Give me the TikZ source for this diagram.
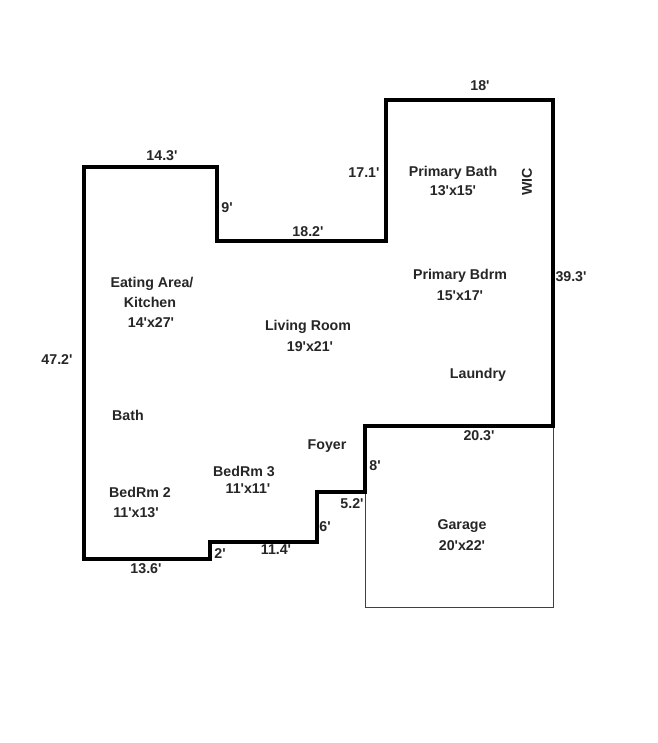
\documentclass[tikz,border=0pt]{standalone}
\usepackage{fontspec}
\setmainfont{Liberation Sans}[Ligatures=TeXOff]
\tikzset{
  wall/.style={line width=3.3pt,black,line join=miter},
  garage/.style={line width=1pt,black!75},
  lbl/.style={font=\fontsize{14.2}{16}\selectfont\bfseries,text=black!85,inner sep=0pt,align=center}
}
\begin{document}
\begin{tikzpicture}[x=1pt,y=-1pt]
\useasboundingbox[fill=white] (0,0) rectangle (657,743);
\draw[garage] (365,426) -- (365,607) -- (553,607) -- (553,426);
\draw[wall] (84,167) -- (217,167) -- (217,241) -- (386,241) -- (386,100) -- (553,100) -- (553,426) -- (365,426) -- (365,492) -- (317,492) -- (317,542) -- (210,542) -- (210,559) -- (84,559) -- cycle;
% dimensions
\node[lbl] (d1) at (480,86) {18'};
\node[lbl] (d2) at (364,173) {17.1'};
\node[lbl] (d3) at (162,156) {14.3'};
\node[lbl] (d4) at (227,208) {9'};
\node[lbl] (d5) at (308,232) {18.2'};
\node[lbl] (d6) at (571,277) {39.3'};
\node[lbl] (d7) at (57,360) {47.2'};
\node[lbl] (d8) at (479,436) {20.3'};
\node[lbl] (d9) at (375,466) {8'};
\node[lbl] (d10) at (352,504) {5.2'};
\node[lbl] (d11) at (325,527) {6'};
\node[lbl] (d12) at (276,550) {11.4'};
\node[lbl] (d13) at (220,554) {2'};
\node[lbl] (d14) at (146,569) {13.6'};
% rooms
\node[lbl] (r1) at (453,173) {Primary Bath};
\node[lbl] (r2) at (453,191) {13'x15'};
\node[lbl,rotate=90] (r3) at (527,182) {WIC};
\node[lbl] (r4) at (460,276) {Primary Bdrm};
\node[lbl] (r5) at (460,296) {15'x17'};
\node[lbl] (r6) at (152,284) {Eating Area/};
\node[lbl] (r7) at (150,302) {Kitchen};
\node[lbl] (r8) at (151,323) {14'x27'};
\node[lbl] (r9) at (308,327) {Living Room};
\node[lbl] (r10) at (310,347) {19'x21'};
\node[lbl] (r11) at (478,375) {Laundry};
\node[lbl] (r12) at (128,415) {Bath};
\node[lbl] (r13) at (327,446) {Foyer};
\node[lbl] (r14) at (244,471) {BedRm 3};
\node[lbl] (r15) at (248,489) {11'x11'};
\node[lbl] (r16) at (140,492) {BedRm 2};
\node[lbl] (r17) at (136,513) {11'x13'};
\node[lbl] (r18) at (462,526) {Garage};
\node[lbl] (r19) at (462,546) {20'x22'};
\end{tikzpicture}
\end{document}
